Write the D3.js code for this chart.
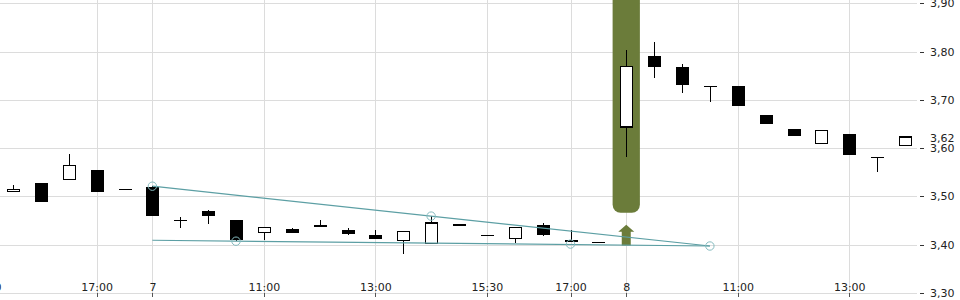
<!DOCTYPE html>
<html>
<head>
<meta charset="utf-8">
<script src="https://cdn.jsdelivr.net/npm/d3@7"></script>
<style>
  html, body { margin: 0; padding: 0; background: #fff; }
  svg { display: block; }
  text { font-family: "DejaVu Sans", sans-serif; font-size: 11px; fill: #222; }
</style>
</head>
<body>
<svg id="chart" width="960" height="300"></svg>
<script>
// ---- data ----
const categories = [
  "06 15:00",
  "06 15:30","06 16:00","06 16:30","06 17:00","06 17:30",
  "07 09:00","07 09:30","07 10:00","07 10:30","07 11:00","07 11:30","07 12:00","07 12:30",
  "07 13:00","07 13:30","07 14:00","07 14:30","07 15:30","07 16:00","07 16:30","07 17:00","07 17:30",
  "08 09:00","08 09:30","08 10:00","08 10:30","08 11:00","08 11:30","08 12:00","08 12:30",
  "08 13:00","08 13:30","08 14:00"
];
const opens  = [null, 3.510,3.528,3.535,3.554,3.514, 3.519,3.450,3.470,3.450,3.425,3.433,3.440,3.430,
                3.419,3.408,3.402,3.4435,3.419,3.412,3.440,3.4095,3.404,
                3.644,3.790,3.769,3.728,3.728,3.669,3.639,3.609, 3.630,3.580,3.605];
const highs  = [null, 3.524,3.528,3.588,3.554,3.514, 3.521,3.457,3.472,3.450,3.435,3.435,3.450,3.4335,
                3.430,3.427,3.459,3.4435,3.419,3.435,3.4445,3.430,3.404,
                3.804,3.819,3.775,3.729,3.728,3.669,3.639,3.637, 3.630,3.580,3.623];
const lows   = [null, 3.510,3.488,3.535,3.509,3.514, 3.459,3.435,3.443,3.407,3.410,3.425,3.436,3.419,
                3.4116,3.381,3.402,3.4394,3.419,3.404,3.418,3.406,3.404,
                3.581,3.745,3.714,3.695,3.687,3.650,3.625,3.609, 3.5855,3.550,3.605];
const closes = [null, 3.514,3.488,3.564,3.509,3.514, 3.459,3.450,3.459,3.410,3.435,3.425,3.436,3.421,
                3.4116,3.427,3.445,3.4394,3.419,3.435,3.4207,3.406,3.404,
                3.7685,3.768,3.730,3.726,3.687,3.650,3.625,3.637, 3.5855,3.579,3.623];

const xTickCats   = ["06 15:00","06 17:00","07 09:00","07 11:00","07 13:00","07 15:30","07 17:00","08 09:00","08 11:00","08 13:00"];
const xTickLabels = ["15:00","17:00","7","11:00","13:00","15:30","17:00","8","11:00","13:00"];
const yTicks = [3.30, 3.40, 3.50, 3.60, 3.70, 3.80, 3.90];
const lastPrice = 3.62;

const upperTrend = [["07 09:00", 3.521], ["08 10:30", 3.397]];
const lowerTrend = [["07 09:00", 3.409], ["08 10:30", 3.397]];
const trendAnchors = [["07 09:00", 3.521], ["07 10:30", 3.407], ["07 14:00", 3.459], ["07 17:00", 3.401], ["08 10:30", 3.397]];
const eventCats = ["08 09:00"];
const eventArrowTop = 3.441;
const eventArrowBottom = 3.398;
const eventBarBottom = 3.466;

// ---- layout ----
const W = 960, H = 300;
const plotRight = 917;
const svg = d3.select("#chart");

const idx = c => categories.indexOf(c);
const x = d3.scaleLinear().domain([0, categories.length - 1]).range([-14.875, 905]);
const y = d3.scaleLinear().domain([3.30, 3.90]).range([292.8, 3.4]);
const fmt = v => d3.format(".2f")(v).replace(".", ",");
const step = x(1) - x(0);

// grid
const grid = svg.append("g").attr("shape-rendering", "crispEdges");
grid.selectAll("line.h").data(yTicks).join("line")
  .attr("x1", 0).attr("x2", plotRight)
  .attr("y1", d => Math.round(y(d)) + 0.5).attr("y2", d => Math.round(y(d)) + 0.5)
  .attr("stroke", "#dcdcdc").attr("stroke-width", 1);
grid.selectAll("line.v").data(xTickCats).join("line")
  .attr("x1", d => Math.round(x(idx(d))) + 0.5).attr("x2", d => Math.round(x(idx(d))) + 0.5)
  .attr("y1", 0).attr("y2", Math.round(y(3.30)))
  .attr("stroke", "#dcdcdc").attr("stroke-width", 1);

// x axis
const xAxis = d3.axisBottom(x)
  .tickValues(xTickCats.map(idx))
  .tickFormat((d, i) => xTickLabels[i])
  .tickSize(4).tickPadding(-6);
const gx = svg.append("g").attr("transform", `translate(0,${Math.round(y(3.30))})`).call(xAxis);
gx.select(".domain").remove();
gx.selectAll(".tick line").attr("stroke", "#555").attr("shape-rendering", "crispEdges");
gx.selectAll(".tick text").attr("font-family", "DejaVu Sans").attr("font-size", 11).attr("fill", "#222").attr("dy", "0");

// y axis on the right
const yAxis = d3.axisRight(y).tickValues(yTicks).tickFormat(fmt).tickSize(4).tickPadding(6);
const gy = svg.append("g").attr("transform", `translate(${plotRight + 3},0)`).call(yAxis);
gy.select(".domain").remove();
gy.selectAll(".tick line").attr("stroke", "#333").attr("shape-rendering", "crispEdges");
gy.selectAll(".tick text").attr("font-family", "DejaVu Sans").attr("font-size", 11).attr("fill", "#222");

// last price label
const lp = svg.append("g").attr("transform", `translate(${plotRight + 13},${y(lastPrice)})`);
lp.append("rect").attr("x", -3).attr("y", -7).attr("width", 40).attr("height", 11.5).attr("fill", "#fff");
lp.append("text").attr("x", 0).attr("dy", "0.32em").attr("font-size", 11).text(fmt(lastPrice));

// event bar
const ev = svg.append("g");
eventCats.forEach(c => {
  const cx = x(idx(c));
  ev.append("rect")
    .attr("x", cx - step / 2 + 0.3).attr("width", step - 0.6)
    .attr("y", -20).attr("height", y(eventBarBottom) + 20)
    .attr("rx", 8).attr("ry", 8)
    .attr("fill", "#6b7c3a");
  const t = y(eventArrowTop), b = y(eventArrowBottom);
  const headH = 7, headW = 8, stemW = 4.5;
  ev.append("path")
    .attr("d", `M${cx},${t} L${cx + headW},${t + headH} L${cx + stemW},${t + headH} L${cx + stemW},${b} L${cx - stemW},${b} L${cx - stemW},${t + headH} L${cx - headW},${t + headH} Z`)
    .attr("fill", "#6b7c3a");
});

// candles
const candles = categories.map((c, i) => ({ i, o: opens[i], h: highs[i], l: lows[i], c: closes[i] }))
  .filter(d => d.o !== null);
const cg = svg.append("g").attr("shape-rendering", "crispEdges");
const bodyW = 13;
candles.forEach(d => {
  const cx = Math.round(x(d.i)) + 0.5;
  cg.append("line").attr("x1", cx).attr("x2", cx).attr("y1", y(d.h)).attr("y2", y(d.l))
    .attr("stroke", "#000").attr("stroke-width", 1);
  const top = y(Math.max(d.o, d.c)), bot = y(Math.min(d.o, d.c));
  const hgt = bot - top;
  if (hgt < 1) {
    cg.append("line").attr("x1", cx - bodyW / 2).attr("x2", cx + bodyW / 2)
      .attr("y1", top).attr("y2", top).attr("stroke", "#000").attr("stroke-width", 1.2);
  } else if (d.c >= d.o) {
    cg.append("rect").attr("x", cx - bodyW / 2 + 0.5).attr("width", bodyW - 1)
      .attr("y", top).attr("height", hgt)
      .attr("fill", "#fff").attr("stroke", "#000").attr("stroke-width", 1.3);
  } else {
    cg.append("rect").attr("x", cx - bodyW / 2).attr("width", bodyW)
      .attr("y", top).attr("height", hgt).attr("fill", "#000");
  }
});

// trend lines
const tg = svg.append("g");
const lineGen = d3.line().x(d => x(idx(d[0]))).y(d => y(d[1]));
[upperTrend, lowerTrend].forEach(t => {
  tg.append("path").attr("d", lineGen(t)).attr("fill", "none")
    .attr("stroke", "#5c9fa4").attr("stroke-width", 1.2);
});
tg.selectAll("circle").data(trendAnchors).join("circle")
  .attr("cx", d => x(idx(d[0]))).attr("cy", d => y(d[1])).attr("r", 4.2)
  .attr("fill", "none").attr("stroke", "#86bcc0").attr("stroke-width", 1);
</script>
</body>
</html>
